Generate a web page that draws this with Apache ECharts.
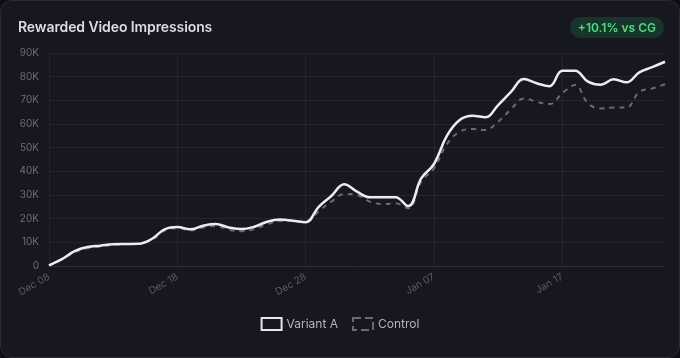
<!DOCTYPE html>
<html>
<head>
<meta charset="utf-8">
<script src="https://cdn.jsdelivr.net/npm/echarts@6/dist/echarts.min.js"></script>
<style>
html,body{margin:0;padding:0;background:#0e0f14;width:680px;height:358px;overflow:hidden;}
#card{position:absolute;left:0;top:0;width:678px;height:356px;border:1px solid #2a2b36;border-radius:12px;background:#16171f;overflow:hidden;}
#chart{position:absolute;left:0;top:0;width:678px;height:356px;}
#title{position:absolute;left:17px;top:17px;font-family:Inter,"Noto Sans",sans-serif;font-weight:600;font-size:14px;color:#dcdce2;letter-spacing:-0.1px;}
#badge{position:absolute;right:15px;top:16px;height:21px;line-height:21px;padding:0 8px;border-radius:11px;background:#17352a;color:#4ade80;font-family:Inter,"Noto Sans",sans-serif;font-weight:600;font-size:12px;}
</style>
</head>
<body>
<div id="card">
  <div id="chart"></div>
  <div id="title">Rewarded Video Impressions</div>
  <div id="badge">+10.1% vs CG</div>
</div>
<script>
const startDate = '2023-12-08';
const dayCount = 49;
const variantA = [300, 2900, 6300, 8000, 8600, 9200, 9300, 9400, 11400, 15500,
  16500, 15500, 17000, 17700, 16300, 15600, 16600, 18700, 19600, 19100,
  18500, 24900, 29600, 34500, 31400, 29000, 29000, 29000, 25300, 37000,
  43100, 55000, 61700, 63500, 62800, 68000, 73600, 79000, 77200, 76000,
  82500, 82500, 77900, 76600, 78900, 77600, 81800, 84000, 86300];
const control = [300, 2700, 5800, 7500, 8200, 8800, 9200, 9300, 11000, 15000,
  16000, 15000, 16300, 16900, 15300, 14700, 15600, 17600, 19000, 19100,
  18500, 23000, 27200, 30400, 30000, 27200, 26200, 26500, 24400, 35600,
  41300, 51500, 56700, 57900, 57500, 61000, 66200, 70800, 69400, 68400,
  73000, 76500, 68700, 66600, 67000, 67000, 73600, 75000, 76800];
const seriesNames = ['Variant A', 'Control'];

const months = ['Jan','Feb','Mar','Apr','May','Jun','Jul','Aug','Sep','Oct','Nov','Dec'];
const categories = [];
{
  const d0 = new Date(startDate + 'T00:00:00Z');
  for (let i = 0; i < dayCount; i++) {
    const d = new Date(d0.getTime() + i * 86400000);
    const dd = String(d.getUTCDate()).padStart(2, '0');
    categories.push(months[d.getUTCMonth()] + ' ' + dd);
  }
}

const chart = echarts.init(document.getElementById('chart'), null, {renderer: 'canvas'});
const font = 'Inter, "Noto Sans", sans-serif';
chart.setOption({
  backgroundColor: 'transparent',
  animation: false,
  grid: {left: 48, right: 14, top: 52, bottom: 91, containLabel: false},
  legend: {
    bottom: 21,
    left: 'center',
    itemWidth: 20,
    itemHeight: 12,
    itemGap: 14,
    textStyle: {color: '#b4b4bc', fontSize: 12, fontFamily: font},
    data: [
      {name: seriesNames[0], icon: 'rect', itemStyle: {color: '#16171f', borderColor: '#e6e6ea', borderWidth: 2}},
      {name: seriesNames[1], icon: 'rect', itemStyle: {color: '#16171f', borderColor: '#6a6b72', borderWidth: 2, borderType: 'dashed'}}
    ]
  },
  xAxis: {
    type: 'category',
    data: categories,
    boundaryGap: false,
    axisLine: {show: true, lineStyle: {color: '#2c2d3c'}},
    axisTick: {show: false},
    axisLabel: {interval: 9, rotate: 30, color: '#5a5b66', fontSize: 10, fontFamily: font, margin: 10},
    splitLine: {show: true, interval: 9, lineStyle: {color: '#23242f'}}
  },
  yAxis: {
    type: 'value',
    min: 0, max: 90000, interval: 10000,
    axisLine: {show: false},
    axisTick: {show: false},
    axisLabel: {color: '#6b6c76', fontSize: 10, fontFamily: font, margin: 10,
      formatter: v => v === 0 ? '0' : (v / 1000) + 'K'},
    splitLine: {lineStyle: {color: '#23242f'}}
  },
  series: [
    {
      name: seriesNames[1], type: 'line', data: control, smooth: 0.4,
      showSymbol: false, symbol: 'none',
      lineStyle: {color: '#6a6b72', width: 2, type: [5, 5]},
      itemStyle: {color: '#6a6b72'}, z: 2
    },
    {
      name: seriesNames[0], type: 'line', data: variantA, smooth: 0.4,
      showSymbol: false, symbol: 'none',
      lineStyle: {color: '#ececf0', width: 2.5},
      itemStyle: {color: '#ececf0'}, z: 3
    }
  ]
});
</script>
</body>
</html>
